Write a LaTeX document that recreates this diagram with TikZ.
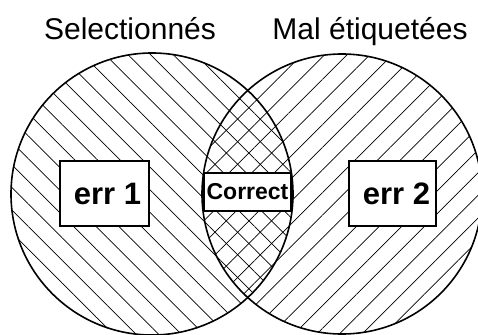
\documentclass[tikz,border=0pt]{standalone}
\usepackage{fontspec}
\setmainfont{Liberation Sans}
\usetikzlibrary{patterns.meta}

\begin{document}
\begin{tikzpicture}[x=1pt,y=-1pt,
  setcircle/.style={line width=1.6pt},
  errbox/.style={draw,line width=1.4pt,fill=white,minimum width=89pt,minimum height=65pt,inner sep=0pt,font=\fontsize{31}{31}\selectfont\bfseries},
  title/.style={anchor=base,font=\fontsize{30}{30}\selectfont}]
\useasboundingbox (0,0) rectangle (478,334);
% hatching of the two sets
\fill[pattern={Lines[angle=-45,distance=16pt,line width=0.7pt]}] (152,194) circle (141);
\fill[pattern={Lines[angle=45,distance=16pt,line width=0.7pt]}] (342,194) circle (140);
\draw[setcircle] (152,194) circle (141);
\draw[setcircle] (342,194) circle (140);
\node[title] (sel) at (130,40) {Selectionnés};
\node[title] (mal) at (370,40) {Mal étiquetées};
\node[errbox] (err1) at (104.5,193.5) {\hspace{6pt}err 1};
\node[errbox,minimum width=87pt] (err2) at (392.5,193.5) {\hspace{8pt}err 2};
\node[errbox,minimum width=87pt,minimum height=38pt,font=\fontsize{23}{23}\selectfont\bfseries] (ok) at (247.5,192) {Correct};
\end{tikzpicture}
\end{document}
